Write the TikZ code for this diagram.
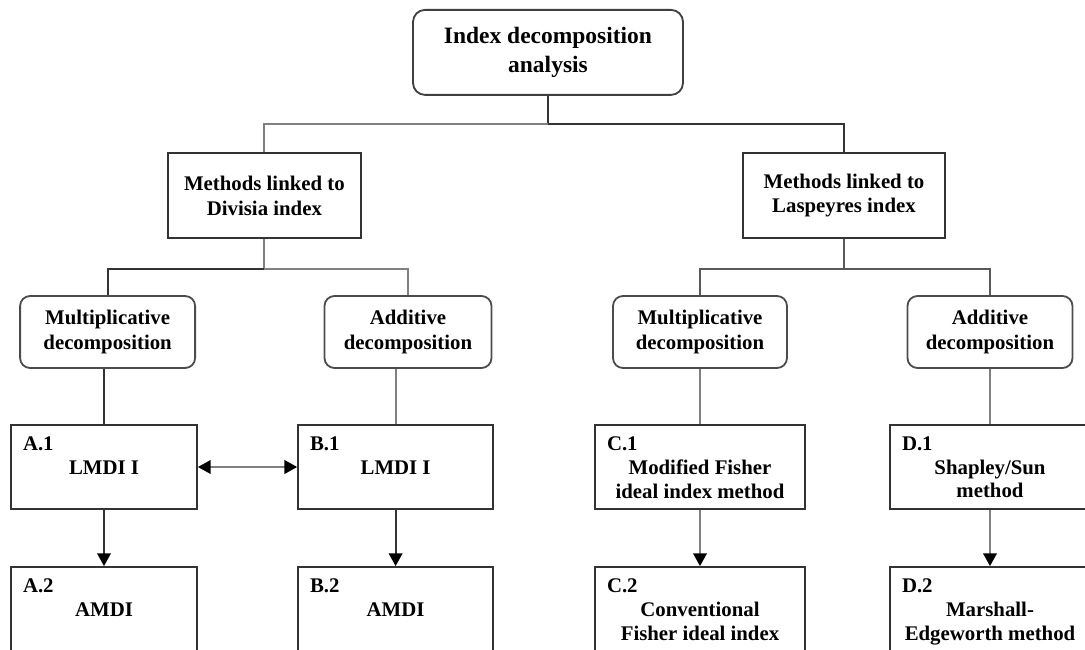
\documentclass[tikz,border=0pt]{standalone}
\usepackage{fontspec}
\setmainfont{Liberation Serif}
\usetikzlibrary{arrows.meta}

\newcommand{\methodtext}[3]{\parbox[c][1.5cm][t]{#1}{#2\par\centering #3\par}}

\begin{document}
\begin{tikzpicture}
        % Define styles
        \tikzset{
            root/.style={rectangle, rounded corners=0.3cm, draw=black!75, line width=1.3pt, minimum width=6.75cm, minimum height=2.125cm, align=center, font=\bfseries\fontsize{16.7}{20}\selectfont},
            family/.style={rectangle, draw=black!80, line width=1.3pt, minimum height=2.125cm, align=center, font=\bfseries\fontsize{14.8}{17.5}\selectfont},
            split/.style={rectangle, rounded corners=0.25cm, draw=black!70, line width=1.3pt, minimum height=1.8cm, align=center, font=\bfseries\fontsize{14.8}{18}\selectfont},
            method/.style={rectangle, draw=black!80, line width=1.3pt, inner sep=0.3cm, font=\bfseries\fontsize{14.8}{16.8}\selectfont},
            darkline/.style={draw=black!80, line width=1.4pt},
            lightline/.style={draw=black!50, line width=1.5pt},
            arrow/.style={-{Triangle[length=0.32cm, width=0.34cm, color=black]}},
            twoway/.style={{Triangle[length=0.32cm, width=0.34cm, color=black]}-{Triangle[length=0.32cm, width=0.34cm, color=black]}}
        }
        \useasboundingbox (0,0) rectangle (27.125,-16.25);

        % Nodes
        \node[root] (ida) at (13.7,-1.31) {Index decomposition\\analysis};
        \node[family, minimum width=4.83cm] (divisia) at (6.61,-4.89) {Methods linked to\\Divisia index};
        \node[family, minimum width=5.05cm] (laspeyres) at (21.1,-4.89) {Methods linked to\\Laspeyres index};

        \node[split, minimum width=4.375cm] (div_mult) at (2.69,-8.3) {Multiplicative\\decomposition};
        \node[split, minimum width=4.175cm] (div_add) at (10.2,-8.3) {Additive\\decomposition};
        \node[split, minimum width=4.35cm] (las_mult) at (17.5,-8.3) {Multiplicative\\decomposition};
        \node[split, minimum width=4.125cm] (las_add) at (24.75,-8.3) {Additive\\decomposition};

        \node[method] (a1) at (2.6,-11.675) {\methodtext{4.05cm}{A.1}{LMDI I}};
        \node[method] (b1) at (9.89,-11.675) {\methodtext{4.275cm}{B.1}{LMDI I}};
        \node[method] (c1) at (17.5,-11.675) {\methodtext{4.65cm}{C.1}{Modified Fisher\\ideal index method}};
        \node[method] (d1) at (24.75,-11.675) {\methodtext{4.4cm}{D.1}{Shapley/Sun\\method}};

        \node[method] (a2) at (2.6,-15.225) {\methodtext{4.05cm}{A.2}{AMDI}};
        \node[method] (b2) at (9.89,-15.225) {\methodtext{4.275cm}{B.2}{AMDI}};
        \node[method] (c2) at (17.5,-15.225) {\methodtext{4.65cm}{C.2}{Conventional\\Fisher ideal index}};
        \node[method] (d2) at (24.75,-15.225) {\methodtext{4.4cm}{D.2}{Marshall-\\Edgeworth method}};

        % Tree lines
        \coordinate (top_joint) at (13.7,-3.1);
        \draw[darkline] (ida.south) -- (top_joint) -| (laspeyres.north);
        \draw[lightline] (top_joint) -| (divisia.north);

        \draw[lightline] (divisia.south) -- ++(0,-0.75) coordinate (div_joint) -| (div_add.north);
        \draw[darkline] (div_joint) -| (div_mult.north);
        \draw[black!65, line width=1.4pt] (laspeyres.south) -- ++(0,-0.75) coordinate (las_joint) -| (las_mult.north);
        \draw[black!65, line width=1.4pt] (las_joint) -| (las_add.north);

        \draw[darkline] (a1.north |- div_mult.south) -- (a1.north);
        \draw[lightline] (b1.north |- div_add.south) -- (b1.north);
        \draw[lightline] (las_mult.south) -- (c1.north);
        \draw[lightline] (las_add.south) -- (d1.north);

        % Arrows
        \draw[lightline, twoway] (a1) -- (b1);
        \draw[darkline, arrow] (a1) -- (a2);
        \draw[darkline, arrow] (b1) -- (b2);
        \draw[lightline, arrow] (c1) -- (c2);
        \draw[lightline, arrow] (d1) -- (d2);
    \end{tikzpicture}
\end{document}
